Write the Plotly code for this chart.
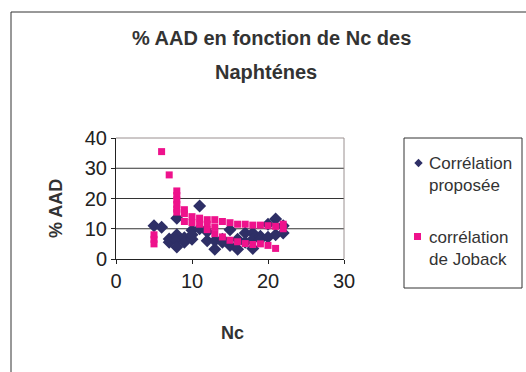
import plotly.graph_objects as go

# Carbon number (Nc) and % AAD for each naphthene, per correlation
nc_proposee = [5, 6, 7, 7, 8, 8, 8, 8, 9, 9, 10, 10, 10, 11, 11, 12, 12, 13, 13, 14, 14,
               15, 15, 16, 16, 17, 17, 18, 18, 18, 19, 19, 20, 20, 21, 21, 22, 22]
aad_proposee = [11, 10.5, 6.6, 5.5, 13.5, 8, 6, 4, 7, 5.5, 9.5, 6.5, 8, 17.5, 10, 6, 9, 3.2, 6, 5.5, 6.5,
                9.7, 4.5, 3.2, 6.5, 8.6, 5.5, 8.6, 6.5, 3.5, 7.5, 6.5, 7.2, 11.5, 13.2, 8, 8.6, 11]

nc_joback = [5, 5, 5, 6, 7, 8, 8, 8, 8, 8, 8, 9, 9, 9, 10, 10, 11, 11, 12, 12, 12, 13, 13, 13,
             14, 14, 15, 15, 16, 16, 17, 17, 18, 18, 19, 19, 20, 20, 21, 21, 22, 22]
aad_joback = [8, 6.5, 5, 35.5, 27.8, 22.5, 21, 19.5, 18, 16.5, 15.5, 16.3, 15, 12.4, 14, 12, 13.5, 11.5,
              13, 11.5, 9.7, 13, 10.6, 8.4, 12.4, 7.3, 12, 6.2, 11.5, 5.7, 11.5, 5.1, 11.2, 4.8,
              11.2, 5, 11, 4.5, 10.8, 3.5, 11.5, 10]

x_ticks = [0, 10, 20, 30]
y_ticks = [0, 10, 20, 30, 40]

series_names = ["Corrélation<br>proposée", "corrélation<br>de Joback"]
NAVY = "#2E2F66"
PINK = "#EE128C"

FONT = "Liberation Sans, Arial, sans-serif"
TEXT = "#333"

W, H = 526, 372
# plot area in pixels
L, R, T, B = 116, 344, 138, 259


def fx(x):
    """pixel column -> figure fraction"""
    return x / W


def fy(y):
    """pixel row -> figure fraction"""
    return 1 - y / H


fig = go.Figure()
fig.add_trace(go.Scatter(
    x=nc_proposee, y=aad_proposee, mode="markers", name=series_names[0],
    marker=dict(symbol="diamond", size=10, color=NAVY),
))
fig.add_trace(go.Scatter(
    x=nc_joback, y=aad_joback, mode="markers", name=series_names[1],
    marker=dict(symbol="square", size=7, color=PINK),
))

axis_common = dict(
    showgrid=False, zeroline=False, ticks="outside", ticklen=4,
    tickcolor="#222", tickfont=dict(family=FONT, size=20, color="#222"),
    showline=True, linecolor="#222", linewidth=1, automargin=False,
)
fig.update_xaxes(range=[0, 30], tickvals=x_ticks, domain=[fx(L), fx(R)], **axis_common)
fig.update_yaxes(range=[0, 40], tickvals=y_ticks, domain=[fy(B), fy(T)], **axis_common)

shapes = []
# horizontal gridlines
for v in [10, 20, 30]:
    shapes.append(dict(type="line", xref="x domain", yref="y", x0=0, x1=1, y0=v, y1=v,
                       line=dict(color="#333", width=1), layer="below"))
# plot area border (top and right)
shapes.append(dict(type="line", xref="paper", yref="paper", x0=fx(L), x1=fx(R), y0=fy(T), y1=fy(T),
                   line=dict(color="#9a9090", width=1)))
shapes.append(dict(type="line", xref="paper", yref="paper", x0=fx(R), x1=fx(R), y0=fy(B), y1=fy(T),
                   line=dict(color="#9a9090", width=1)))
# chart area border (top and left edges fall inside the canvas)
shapes.append(dict(type="line", xref="paper", yref="paper", x0=fx(11), x1=1, y0=fy(12), y1=fy(12),
                   line=dict(color="#333", width=1)))
shapes.append(dict(type="line", xref="paper", yref="paper", x0=fx(11), x1=fx(11), y0=0, y1=fy(12),
                   line=dict(color="#333", width=1)))
# legend frame
shapes.append(dict(type="rect", xref="paper", yref="paper",
                   x0=fx(404), x1=fx(522), y0=fy(288), y1=fy(138),
                   line=dict(color="#333", width=1)))


def diamond_path(cx, cy, r):
    pts = [(cx, cy - r), (cx + r, cy), (cx, cy + r), (cx - r, cy)]
    return "M " + " L ".join(f"{fx(x):.5f},{fy(y):.5f}" for x, y in pts) + " Z"


# legend keys
shapes.append(dict(type="path", xref="paper", yref="paper", path=diamond_path(418.5, 163, 4.2),
                   fillcolor=NAVY, line=dict(width=0)))
shapes.append(dict(type="rect", xref="paper", yref="paper",
                   x0=fx(414), x1=fx(421), y0=fy(240), y1=fy(233),
                   fillcolor=PINK, line=dict(width=0)))


def label(text, x, y, size, **kw):
    return dict(text=text, x=fx(x), y=fy(y), xref="paper", yref="paper",
                xanchor=kw.pop("xanchor", "center"), yanchor="middle",
                showarrow=False, font=dict(family=FONT, size=size, color=TEXT), **kw)


annotations = [
    label("<b>% AAD en fonction de Nc des</b>", 271, 38, 20),
    label("<b>Naphténes</b>", 266, 72, 20),
    label("<b>Nc</b>", 232, 333, 18),
    label("<b>% AAD</b>", 56, 209, 18, textangle=-90),
    label(series_names[0], 427, 174, 17, xanchor="left", align="left"),
    label(series_names[1], 427, 248, 17, xanchor="left", align="left"),
]

fig.update_layout(
    template="none",
    width=W, height=H,
    margin=dict(l=0, r=0, t=0, b=0, pad=0),
    paper_bgcolor="white", plot_bgcolor="white",
    showlegend=False,
    shapes=shapes, annotations=annotations,
)

fig.write_html("out.html")
